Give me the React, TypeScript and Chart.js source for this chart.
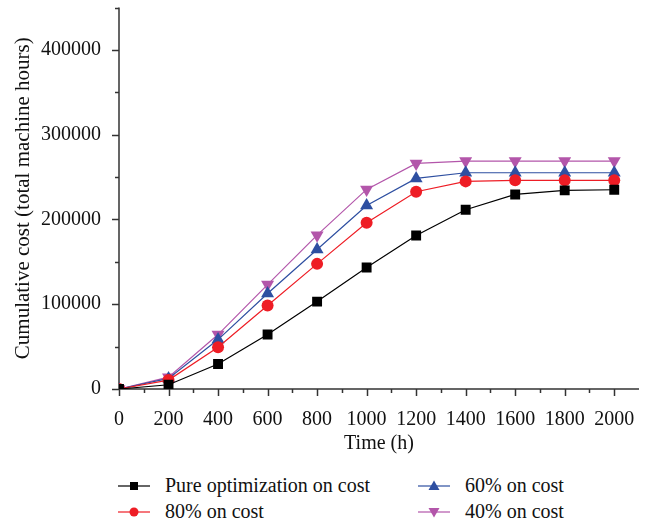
import React, { useEffect, useRef } from "react";
import { Chart, registerables } from "chart.js";

Chart.register(...registerables);

const timeHours = [0, 200, 400, 600, 800, 1000, 1200, 1400, 1600, 1800, 2000];
const pureCost = [0, 5000, 29500, 64200, 103100, 143300, 181100, 211400, 229500, 234300, 235000];
const cost80 = [0, 10500, 49200, 98400, 147600, 196100, 232700, 244900, 246100, 246100, 246100];
const cost60 = [0, 12500, 58300, 112600, 164600, 216500, 248400, 255100, 255100, 255100, 255100];
const cost40 = [0, 14000, 64200, 123200, 181500, 235400, 266100, 268900, 268900, 268900, 268900];

const seriesLabels = ["Pure optimization on cost", "80% on cost", "60% on cost", "40% on cost"];
const yMajorTicks = [0, 100000, 200000, 300000, 400000];

const COLORS = {
  black: "#000000",
  red: "#ee1d25",
  blue: "#2e4fa1",
  purple: "#b356aa",
};
const FONT = "'Liberation Serif', 'Times New Roman', serif";
const AXIS_COLOR = "#333333";

const axisPlugin = {
  id: "customAxes",
  beforeDatasetsDraw(chart: any) {
    const { ctx, chartArea, scales } = chart;
    const x = scales.x;
    const y = scales.y;
    ctx.save();
    ctx.strokeStyle = AXIS_COLOR;
    ctx.lineWidth = 1.5;
    const x0 = x.getPixelForValue(0);
    const y0 = y.getPixelForValue(0);
    ctx.beginPath();
    ctx.moveTo(x0, chartArea.top);
    ctx.lineTo(x0, y0);
    ctx.moveTo(x0, y0);
    ctx.lineTo(chartArea.right, y0);
    ctx.stroke();
    for (let v = 0; v <= 450000; v += 50000) {
      const py = Math.round(y.getPixelForValue(v)) + 0.5;
      const len = v % 100000 === 0 ? 7 : 4;
      ctx.beginPath();
      ctx.moveTo(x0, py);
      ctx.lineTo(x0 - len, py);
      ctx.stroke();
    }
    for (let v = 0; v <= 2000; v += 100) {
      const px = Math.round(x.getPixelForValue(v)) + 0.5;
      const len = v % 200 === 0 ? 7 : 4;
      ctx.beginPath();
      ctx.moveTo(px, y0);
      ctx.lineTo(px, y0 + len);
      ctx.stroke();
    }
    ctx.restore();
  },
};

function LegendMarker({ kind, color }: { kind: string; color: string }) {
  let marker: any = null;
  if (kind === "square") marker = <rect x={12} y={6} width={8} height={8} fill={color} />;
  if (kind === "circle") marker = <circle cx={16} cy={10} r={4.5} fill={color} />;
  if (kind === "up") marker = <polygon points="16,4.5 21.5,14 10.5,14" fill={color} />;
  if (kind === "down") marker = <polygon points="10.5,6 21.5,6 16,15.5" fill={color} />;
  return (
    <svg width={32} height={20} style={{ position: "absolute", left: 0, top: 0 }}>
      <line x1={0} y1={10} x2={32} y2={10} stroke={color} strokeWidth={1.2} />
      {marker}
    </svg>
  );
}

function LegendItem({ left, top, kind, color, text }: any) {
  return (
    <div style={{ position: "absolute", left, top, height: 20 }}>
      <LegendMarker kind={kind} color={color} />
      <div
        style={{
          position: "absolute",
          left: 47,
          top: -1,
          whiteSpace: "nowrap",
          fontFamily: FONT,
          fontSize: 20,
          lineHeight: "20px",
          color: "#111",
        }}
      >
        {text}
      </div>
    </div>
  );
}

export default function App() {
  const canvasRef = useRef<HTMLCanvasElement | null>(null);

  useEffect(() => {
    if (!canvasRef.current) return;
    const mk = (label: string, data: number[], color: string, style: any, radius: number, rotation = 0) => ({
      label,
      data: timeHours.map((t, i) => ({ x: t, y: data[i] })),
      borderColor: color,
      backgroundColor: color,
      borderWidth: 1.2,
      pointStyle: style,
      pointRadius: radius,
      pointRotation: rotation,
      pointBorderWidth: 0,
      pointBackgroundColor: color,
      tension: 0,
    });
    const chart = new Chart(canvasRef.current, {
      type: "line",
      data: {
        datasets: [
          mk(seriesLabels[0], pureCost, COLORS.black, "rect", 7),
          mk(seriesLabels[1], cost80, COLORS.red, "circle", 6),
          mk(seriesLabels[2], cost60, COLORS.blue, "triangle", 7.5),
          mk(seriesLabels[3], cost40, COLORS.purple, "triangle", 7.5, 180),
        ] as any,
      },
      plugins: [axisPlugin],
      options: {
        animation: false,
        responsive: false,
        maintainAspectRatio: false,
        layout: { padding: { left: 0, right: 11, top: 6, bottom: 0 } },
        plugins: { legend: { display: false }, tooltip: { enabled: false } },
        scales: {
          x: {
            type: "linear",
            min: 0,
            max: 2100,
            grid: { display: false },
            border: { display: false },
            afterFit: (s: any) => {
              s.height = 71;
              s.paddingLeft = 0;
              s.paddingRight = 0;
            },
            ticks: {
              stepSize: 100,
              autoSkip: false,
              maxRotation: 0,
              padding: 11,
              color: "#111",
              font: { family: FONT, size: 20 },
              callback: (v: any) => (Number(v) % 200 === 0 && Number(v) <= 2000 ? String(v) : ""),
            },
            title: {
              display: true,
              text: "Time (h)",
              color: "#111",
              font: { family: FONT, size: 20 },
              padding: { top: 0, bottom: 4 },
            },
          },
          y: {
            type: "linear",
            min: 0,
            max: 450000,
            grid: { display: false },
            border: { display: false },
            afterFit: (s: any) => {
              s.width = 119;
              s.paddingTop = 0;
              s.paddingBottom = 0;
            },
            afterBuildTicks: (s: any) => {
              s.ticks = yMajorTicks.map((v) => ({ value: v }));
            },
            ticks: {
              padding: 10,
              color: "#111",
              font: { family: FONT, size: 20 },
              callback: (v: any) => String(v),
            },
            title: {
              display: true,
              text: "Cumulative cost (total machine hours)",
              color: "#111",
              font: { family: FONT, size: 21 },
              padding: { top: 11, bottom: 0 },
            },
          },
        },
      },
    });
    return () => chart.destroy();
  }, []);

  return (
    <div style={{ position: "absolute", left: 0, top: 0, width: 650, height: 529, background: "#fff" }}>
      <canvas ref={canvasRef} width={650} height={460} style={{ position: "absolute", left: 0, top: 0 }} />
      <LegendItem left={118} top={476} kind="square" color={COLORS.black} text={seriesLabels[0]} />
      <LegendItem left={118} top={502} kind="circle" color={COLORS.red} text={seriesLabels[1]} />
      <LegendItem left={418} top={476} kind="up" color={COLORS.blue} text={seriesLabels[2]} />
      <LegendItem left={418} top={502} kind="down" color={COLORS.purple} text={seriesLabels[3]} />
    </div>
  );
}
